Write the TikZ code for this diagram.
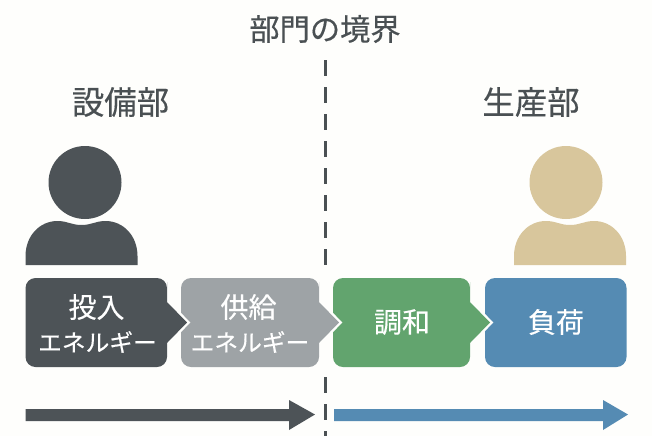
\documentclass[tikz,border=0pt]{standalone}
\usepackage{fontspec}
\setmainfont{Noto Sans CJK JP}
\newfontfamily\boxfont[FakeBold=0.35]{Noto Sans CJK JP}
\definecolor{darkc}{HTML}{4D5357}
\definecolor{grayc}{HTML}{9EA3A6}
\definecolor{greenc}{HTML}{62A46E}
\definecolor{bluec}{HTML}{558BB3}
\definecolor{tanc}{HTML}{D8C69C}
\definecolor{inkc}{HTML}{4A5053}
\definecolor{paperc}{HTML}{FEFEFC}
\tikzset{
  heading/.style={text=inkc,font=\boxfont\fontsize{22.7pt}{26pt}\selectfont,inner sep=0pt},
  boxtext/.style={text=white,font=\boxfont\fontsize{21pt}{26.25pt}\selectfont,inner sep=0pt,align=center},
  smalltext/.style={text=white,font=\boxfont\fontsize{17.8pt}{20pt}\selectfont,inner sep=0pt},
  stage/.style={rounded corners=7.5pt},
  stageout/.style={draw=paperc,line width=3.6pt},
  boundary/.style={draw=inkc,line width=2.9pt,dash pattern=on 12pt off 8.25pt},
}
\newcommand{\chevronbox}[3]{% left, right, tip
  (#1,322) [rounded corners=7.5pt] -- (#1,278) -- (#2,278) -- (#2,292) [sharp corners] -- (#2,302) -- (#3,322.5) -- (#2,343) -- (#2,352) [rounded corners=7.5pt] -- (#2,367) -- (#1,367) -- cycle}
\newcommand{\person}[3]{% body centre, head centre, colour
  \fill[#3] (#2,182.5) circle[radius=36.5];
  \fill[#3] (#1-56,265) -- (#1-56,256)
    .. controls (#1-56,236) and (#1-42,221) .. (#1-24,221)
    .. controls (#1-14,221) and (#1-10,225) .. (#1,225)
    .. controls (#1+10,225) and (#1+14,221) .. (#1+24,221)
    .. controls (#1+42,221) and (#1+56,236) .. (#1+56,256)
    -- (#1+56,265) -- cycle;}
\begin{document}
\begin{tikzpicture}[x=0.75pt,y=-0.75pt]
\useasboundingbox (0,0) rectangle (652,436);
\fill[paperc] (0,0) rectangle (652,436);
% boundary
\coordinate (bt1) at (325.5,60);
\coordinate (bb1) at (325.5,265);
\coordinate (bt2) at (325.5,377);
\coordinate (bb2) at (325.5,436);
\draw[boundary] (bt1) -- (bb1);
\draw[boundary] (bt2) -- (bb2);
% headings
\node[heading] (title) at (325,29) {部門の境界};
\node[heading,font=\boxfont\fontsize{24.3pt}{26pt}\selectfont] (left) at (120.5,102) {設備部};
\node[heading,font=\boxfont\fontsize{24.3pt}{26pt}\selectfont] (right) at (531,102) {生産部};
% persons
\person{81.5}{85}{darkc}
\person{570}{566}{tanc}
% stages, drawn right to left so each tip lies over the next box
\fill[bluec,stage] (485,278) rectangle (626.5,367);
\draw[stageout] \chevronbox{333}{470}{490};
\fill[greenc] \chevronbox{333}{470}{490};
\draw[stageout] \chevronbox{181}{319}{339};
\fill[grayc] \chevronbox{181}{319}{339};
\draw[stageout] \chevronbox{25.5}{167}{187};
\fill[darkc] \chevronbox{25.5}{167}{187};
% stage labels
\node[boxtext] (a1) at (96.5,307) {投入};
\node[smalltext] (a2) at (97.5,342) {エネルギー};
\node[boxtext] (b1) at (248.5,307) {供給};
\node[smalltext] (b2) at (250,342) {エネルギー};
\node[boxtext] (c) at (402,322) {調和};
\node[boxtext] (d) at (556,322) {負荷};
% flow arrows
\fill[darkc] (25.5,409) -- (289,409) -- (289,400) -- (315,414.5) -- (289,430) -- (289,421) -- (25.5,421) -- cycle;
\fill[bluec] (334,409) -- (603,409) -- (603,400) -- (628,414.5) -- (603,430) -- (603,421) -- (334,421) -- cycle;
\end{tikzpicture}
\end{document}
